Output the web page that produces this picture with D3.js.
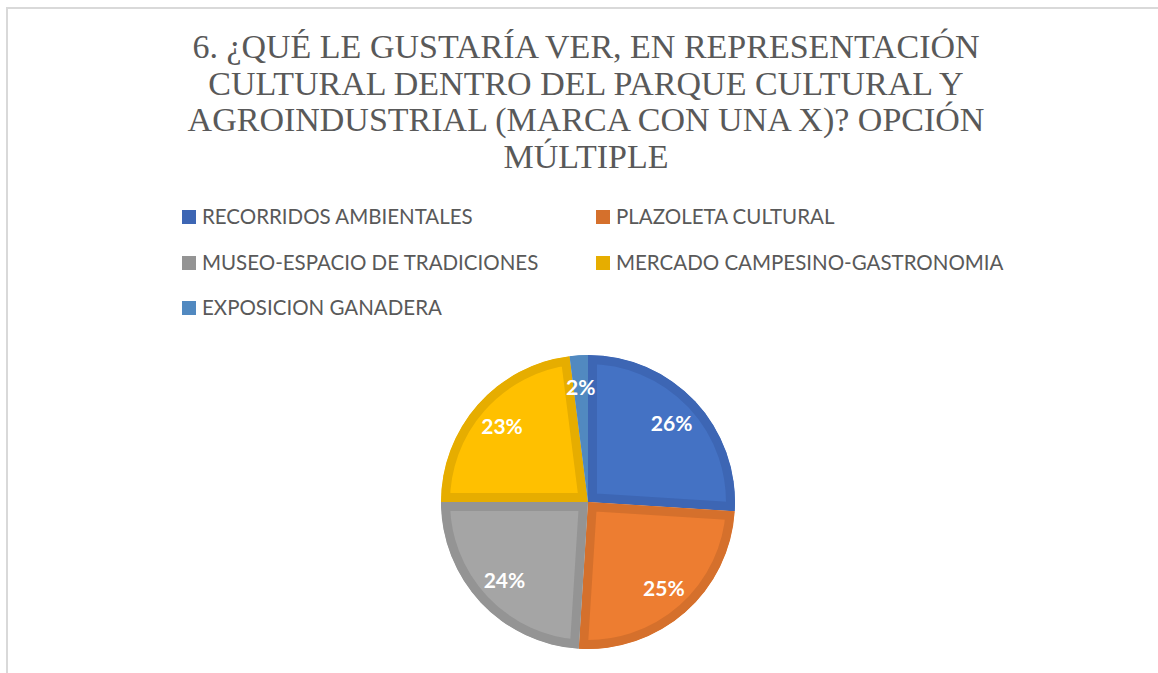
<!DOCTYPE html>
<html>
<head>
<meta charset="utf-8">
<script src="https://cdn.jsdelivr.net/npm/d3@7"></script>
<style>
  body { margin: 0; background: #fff; }
  svg { display: block; }
</style>
</head>
<body>
<svg id="chart"></svg>
<script>
const width = 1158, height = 673;

const titleLines = [
  "6. ¿QUÉ LE GUSTARÍA VER, EN REPRESENTACIÓN",
  "CULTURAL DENTRO DEL PARQUE CULTURAL Y",
  "AGROINDUSTRIAL (MARCA CON UNA X)? OPCIÓN",
  "MÚLTIPLE"
];
const categories = [
  "RECORRIDOS AMBIENTALES",
  "PLAZOLETA CULTURAL",
  "MUSEO-ESPACIO DE TRADICIONES",
  "MERCADO CAMPESINO-GASTRONOMIA",
  "EXPOSICION GANADERA"
];
const values = [26, 25, 24, 23, 2];
const fills = ["#4472C4", "#ED7D31", "#A5A5A5", "#FFC000", "#5B9BD5"];
const borders = ["#3D66B4", "#D5702C", "#949494", "#E6AD00", "#5189C0"];

const svg = d3.select("#chart").attr("width", width).attr("height", height);

// chart area frame (runs off the right and bottom)
svg.append("rect")
  .attr("x", 7).attr("y", 8)
  .attr("width", width + 20).attr("height", height + 20)
  .attr("fill", "#fff")
  .attr("stroke", "#d9d9d9")
  .attr("stroke-width", 2);

// title
svg.append("g").selectAll("text")
  .data(titleLines)
  .join("text")
  .attr("x", 586)
  .attr("y", (d, i) => 58 + i * 36.7)
  .attr("text-anchor", "middle")
  .attr("font-family", "'Liberation Serif', 'Times New Roman', serif")
  .attr("font-size", 34)
  .attr("fill", "#595959")
  .text(d => d);

// legend
const legendPos = [[182, 217], [596, 217], [182, 263], [596, 263], [182, 308]];
const legend = svg.append("g").selectAll("g")
  .data(categories)
  .join("g")
  .attr("transform", (d, i) => "translate(" + legendPos[i][0] + "," + legendPos[i][1] + ")");
legend.append("rect")
  .attr("x", 0).attr("y", -7)
  .attr("width", 14).attr("height", 14)
  .attr("fill", (d, i) => borders[i]);
legend.append("text")
  .attr("x", 20)
  .attr("dy", "0.36em")
  .attr("font-family", "Lato, 'Open Sans', sans-serif")
  .attr("font-size", 20.5)
  .attr("fill", "#595959")
  .text(d => d);

// pie
const cx = 588, cy = 502, radius = 147;
const pie = d3.pie().value(d => d).sort(null);
const arcs = pie(values);
const arc = d3.arc().innerRadius(0).outerRadius(radius);
const labelArc = d3.arc().innerRadius(radius * 0.78).outerRadius(radius * 0.78);
const total = d3.sum(values);

const g = svg.append("g").attr("transform", "translate(" + cx + "," + cy + ")");
const defs = svg.append("defs");
arcs.forEach((d, i) => {
  defs.append("clipPath").attr("id", "slice" + i)
    .append("path").attr("d", arc(d));
});

// border drawn twice as wide and clipped to its own slice, so it sits inside
g.selectAll("path.slice")
  .data(arcs)
  .join("path")
  .attr("class", "slice")
  .attr("d", arc)
  .attr("fill", (d, i) => fills[i])
  .attr("stroke", (d, i) => borders[i])
  .attr("stroke-width", 18)
  .attr("stroke-linejoin", "miter")
  .attr("clip-path", (d, i) => "url(#slice" + i + ")");

g.selectAll("text.label")
  .data(arcs)
  .join("text")
  .attr("class", "label")
  .attr("transform", d => "translate(" + labelArc.centroid(d) + ")")
  .attr("text-anchor", "middle")
  .attr("dy", "0.36em")
  .attr("font-family", "Lato, 'Open Sans', sans-serif")
  .attr("font-weight", "bold")
  .attr("font-size", 21)
  .attr("fill", "#fff")
  .text(d => Math.round(d.value / total * 100) + "%");
</script>
</body>
</html>
